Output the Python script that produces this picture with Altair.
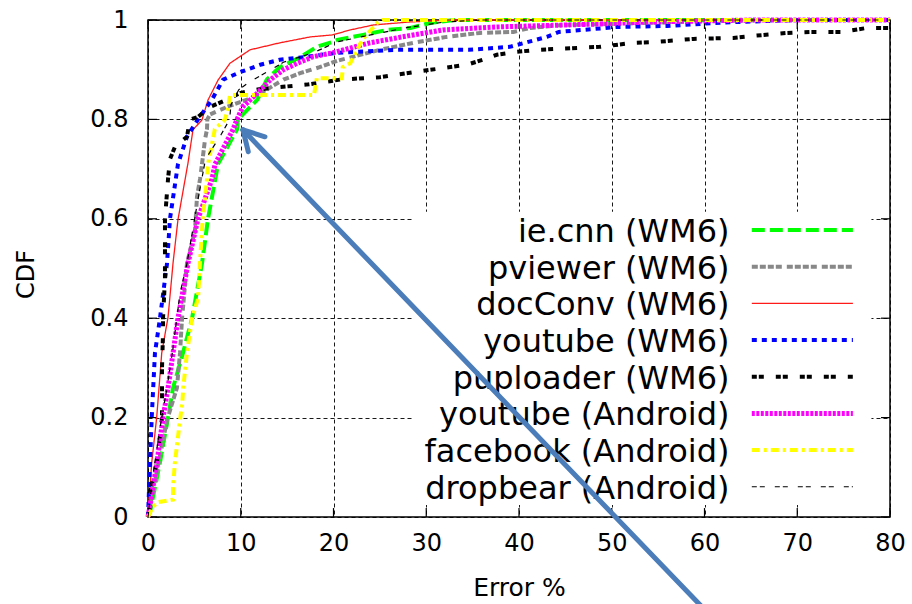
import altair as alt
import pandas as pd

# ---- CDF curves: error (%) and cumulative fraction, one pair of lists per trace ----
iecnn_err = [0, 0.22, 1.29, 2.16, 2.7, 3.77, 4.75, 5.82, 6.47, 7.55, 9.6, 9.7, 11.8, 12.8, 14.2, 16.4, 18.2, 19.9, 20.4, 23.2, 25.8, 28.3, 30.4, 33, 80]
iecnn_cdf = [0, 0.01, 0.11, 0.2, 0.26, 0.33, 0.40, 0.51, 0.60, 0.71, 0.78, 0.80, 0.84, 0.88, 0.905, 0.925, 0.946, 0.956, 0.96, 0.97, 0.98, 0.984, 0.994, 1.0, 1.0]

pviewer_err = [0, 0.2, 2.05, 3.12, 3.45, 3.67, 4.2, 5.07, 5.28, 5.61, 5.82, 6.15, 6.36, 6.4, 6.69, 8.52, 10.7, 12.8, 14.6, 16.4, 18.5, 20.4, 25.0, 28.6, 32.2, 35.8, 39.4, 41.2, 44.8, 50, 60, 70, 80]
pviewer_cdf = [0, 0.02, 0.195, 0.26, 0.33, 0.40, 0.51, 0.577, 0.644, 0.68, 0.71, 0.76, 0.78, 0.80, 0.81, 0.825, 0.84, 0.86, 0.88, 0.893, 0.905, 0.918, 0.94, 0.954, 0.966, 0.974, 0.976, 0.984, 0.99, 0.992, 0.998, 1.0, 1.0]

docconv_err = [0, 0.4, 0.94, 1.48, 2.16, 2.70, 3.23, 4.31, 4.85, 5.82, 6.47, 7.55, 8.84, 11.0, 14.2, 17.5, 19.9, 21.8, 24.3, 28.2, 32.6, 80]
docconv_cdf = [0, 0.109, 0.201, 0.33, 0.402, 0.511, 0.598, 0.712, 0.779, 0.799, 0.839, 0.879, 0.913, 0.94, 0.954, 0.966, 0.97, 0.98, 0.99, 0.996, 1.0, 1.0]

ytwm6_err = [0, 0.1, 0.3, 0.4, 0.75, 1.29, 2.05, 2.37, 3.23, 4.2, 5.39, 6.9, 8.1, 9.92, 12.1, 14.2, 17.1, 20.4, 26.8, 34.6, 39.0, 41.0, 43.0, 44.3, 50.6, 56.0, 62, 70, 80]
ytwm6_cdf = [0, 0.05, 0.15, 0.2, 0.33, 0.40, 0.51, 0.60, 0.71, 0.765, 0.80, 0.84, 0.88, 0.895, 0.91, 0.92, 0.926, 0.934, 0.94, 0.94, 0.946, 0.956, 0.966, 0.976, 0.986, 0.988, 0.995, 1.0, 1.0]

puploader_err = [0, 0.2, 0.22, 0.97, 1.51, 1.51, 1.62, 1.62, 1.83, 1.83, 2.16, 2.37, 2.91, 4.2, 4.53, 5.39, 6.69, 8.52, 9.92, 11.8, 14.2, 17.1, 20.7, 25.0, 28.6, 34.4, 36.1, 37.6, 39.8, 42, 48.7, 52.3, 54.9, 58.8, 63.1, 65.2, 68.9, 71.4, 74.9, 77.5, 80]
puploader_cdf = [0, 0.02, 0.05, 0.11, 0.2, 0.3, 0.37, 0.40, 0.48, 0.60, 0.68, 0.72, 0.745, 0.765, 0.80, 0.805, 0.825, 0.84, 0.853, 0.86, 0.865, 0.87, 0.88, 0.885, 0.895, 0.91, 0.92, 0.93, 0.936, 0.94, 0.946, 0.954, 0.956, 0.962, 0.964, 0.968, 0.974, 0.976, 0.976, 0.984, 0.984]

ytand_err = [0, 0.1, 0.97, 1.62, 2.16, 2.7, 3.23, 4.31, 5.39, 6.9, 7.23, 9.17, 9.6, 10.2, 11.8, 13.2, 14.6, 16.1, 17.8, 19.9, 23.9, 28.0, 31.8, 37.6, 45, 48.7, 54, 65, 80]
ytand_cdf = [0, 0.01, 0.11, 0.2, 0.26, 0.33, 0.40, 0.51, 0.60, 0.68, 0.71, 0.78, 0.80, 0.825, 0.853, 0.88, 0.90, 0.913, 0.926, 0.934, 0.954, 0.968, 0.98, 0.986, 0.99, 0.992, 0.996, 1.0, 1.0]

facebook_err = [0, 0.5, 1.1, 2.7, 2.7, 2.9, 3.1, 3.45, 3.7, 3.8, 4.2, 4.75, 5.4, 5.6, 5.9, 6.36, 6.47, 7.0, 7.2, 8.3, 8.6, 8.84, 17.9, 18.2, 20.9, 21.0, 21.8, 23.1, 24.7, 25.3, 80]
facebook_cdf = [0, 0.02, 0.03, 0.035, 0.06, 0.11, 0.14, 0.195, 0.23, 0.26, 0.33, 0.40, 0.44, 0.51, 0.60, 0.68, 0.71, 0.76, 0.78, 0.80, 0.82, 0.849, 0.849, 0.883, 0.883, 0.905, 0.913, 0.96, 0.994, 1.0, 1.0]

dropbear_err = [0, 0.5, 1.3, 2.05, 2.7, 3.45, 4.2, 5.4, 6.2, 7.9, 8.8, 8.95, 9.8, 11.0, 12.8, 14.6, 17.8, 20.4, 24, 28, 32, 36, 80]
dropbear_cdf = [0, 0.08, 0.18, 0.26, 0.34, 0.45, 0.51, 0.64, 0.72, 0.77, 0.80, 0.83, 0.86, 0.876, 0.895, 0.915, 0.934, 0.956, 0.97, 0.985, 0.996, 1.0, 1.0]

labels = [
    "ie.cnn (WM6)", "pviewer (WM6)", "docConv (WM6)", "youtube (WM6)",
    "puploader (WM6)", "youtube (Android)", "facebook (Android)", "dropbear (Android)",
]
errors = [iecnn_err, pviewer_err, docconv_err, ytwm6_err, puploader_err, ytand_err, facebook_err, dropbear_err]
cdfs = [iecnn_cdf, pviewer_cdf, docconv_cdf, ytwm6_cdf, puploader_cdf, ytand_cdf, facebook_cdf, dropbear_cdf]

# line styles: colour, width, dash pattern
colors = ["#00ff00", "#888888", "#ff1a1a", "#0000ff", "#000000", "#ff00ff", "#ffff00", "#000000"]
widths = [4, 4, 1.3, 4, 4, 5, 4, 1.2]
dashes = [[13, 5], [6, 2, 6, 2, 6, 2, 6, 5], [1, 0], [5, 5], [5, 2, 5, 12], [3, 1.5], [8, 4, 3, 4], [5, 3, 5, 10]]

# annotation arrow (data units): shaft from tail to tip, plus two head arms
arrow_tip = (10.24, 0.779)
arrow_tail = (60.2, -0.19)
arrow_arms = [(10.81, 0.735), (12.61, 0.765)]

X_TICKS = list(range(0, 81, 10))
Y_TICKS = [0, 0.2, 0.4, 0.6, 0.8, 1]
FONT = "DejaVu Sans"

x_scale = alt.Scale(domain=[0, 80], nice=False, zero=False)
y_scale = alt.Scale(domain=[0, 1], nice=False, zero=False)

x_axis = alt.Axis(
    values=X_TICKS, title="Error %", grid=True, gridColor="black", gridDash=[4, 3],
    gridWidth=1, gridOpacity=0.9, domain=False, ticks=False, tickSize=0,
    labelPadding=14, labelFontSize=24, labelFont=FONT, labelColor="black",
    labelFlush=False, labelOverlap=False,
    titleFont=FONT, titleFontSize=25, titleFontWeight="normal", titleColor="black",
    titleX=371, titleY=70, titleBaseline="middle", titleAlign="center",
)
y_axis = alt.Axis(
    values=Y_TICKS, title="CDF", grid=True, gridColor="black", gridDash=[4, 3],
    gridWidth=1, gridOpacity=0.9, domain=False, ticks=False, tickSize=0,
    labelPadding=20, labelFontSize=24, labelFont=FONT, labelColor="black",
    labelFlush=False, labelOverlap=False, format="~g",
    titleFont=FONT, titleFontSize=24, titleFontWeight="normal", titleColor="black",
    titleX=-122, titleY=254, titleAngle=270, titleBaseline="middle", titleAlign="center",
)


def X(field="x"):
    return alt.X(f"{field}:Q", scale=x_scale, axis=x_axis)


def Y(field="y"):
    return alt.Y(f"{field}:Q", scale=y_scale, axis=y_axis)


layers = []

# inward tick marks on all four sides of the frame
tick_rows = []
for t in X_TICKS:
    tick_rows.append({"x": t, "x2": t, "y": 0, "y2": 0.018})
    tick_rows.append({"x": t, "x2": t, "y": 1, "y2": 0.982})
for t in Y_TICKS:
    tick_rows.append({"x": 0, "x2": 0.97, "y": t, "y2": t})
    tick_rows.append({"x": 80, "x2": 79.03, "y": t, "y2": t})
layers.append(
    alt.Chart(pd.DataFrame(tick_rows)).mark_rule(color="black", strokeWidth=1.2).encode(
        x=X(), x2="x2:Q", y=Y(), y2="y2:Q"
    )
)

# white legend box covering the grid
box = pd.DataFrame([{"x": 28.6, "x2": 78.0, "y": 0.024, "y2": 0.614}])
layers.append(
    alt.Chart(box).mark_rect(color="white", opacity=1).encode(x=X(), x2="x2:Q", y=Y(), y2="y2:Q")
)

# curves
for lab, ex, cy, col, w, d in zip(labels, errors, cdfs, colors, widths, dashes):
    df = pd.DataFrame({"x": ex, "y": cy})
    layers.append(
        alt.Chart(df).mark_line(color=col, strokeWidth=w, strokeDash=d, clip=False).encode(
            x=X(), y=Y(), order="x:Q"
        )
    )

# legend rows: label right-aligned, style sample on the right
row_top, row_step = 0.5775, 0.0738
for i, (lab, col, w, d) in enumerate(zip(labels, colors, widths, dashes)):
    yy = row_top - i * row_step
    lab_df = pd.DataFrame([{"x": 62.7, "y": yy, "label": lab}])
    layers.append(
        alt.Chart(lab_df).mark_text(
            align="right", baseline="middle", font=FONT, fontSize=32, color="black", dy=2
        ).encode(x=X(), y=Y(), text="label:N")
    )
    smp = pd.DataFrame([{"x": 65.1, "x2": 76.0, "y": yy}])
    layers.append(
        alt.Chart(smp).mark_rule(color=col, strokeWidth=w, strokeDash=d).encode(
            x=X(), x2="x2:Q", y=Y()
        )
    )

# arrow annotation
arrow_rows = [{"x": arrow_tail[0], "y": arrow_tail[1], "x2": arrow_tip[0], "y2": arrow_tip[1]}]
for ax_, ay_ in arrow_arms:
    arrow_rows.append({"x": arrow_tip[0], "y": arrow_tip[1], "x2": ax_, "y2": ay_})
layers.append(
    alt.Chart(pd.DataFrame(arrow_rows)).mark_rule(
        color="#4a7dba", strokeWidth=5, strokeCap="round", clip=False
    ).encode(x=X(), x2="x2:Q", y=Y(), y2="y2:Q")
)

chart = alt.layer(*layers).properties(
    width=742,
    height=497,
    autosize=alt.AutoSizeParams(type="none"),
    padding={"left": 148, "top": 20, "right": 22, "bottom": 87},
    background="white",
).configure_view(stroke="black", strokeWidth=1.5)

chart.save("out.html", embed_options={"renderer": "svg", "actions": False})
